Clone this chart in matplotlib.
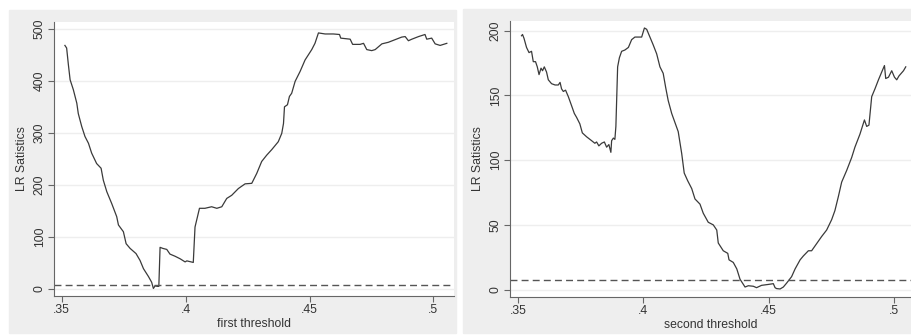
import numpy as np
import matplotlib
matplotlib.use("Agg")
import matplotlib.pyplot as plt
from matplotlib.patches import Rectangle

plt.rcParams['font.family'] = ['Liberation Sans', 'DejaVu Sans']

# first threshold LR statistics
x1 = [.3513, .3520, .3527, .3534, .3547, .3561, .3567, .3581, .3594, .3608,
      .3621, .3641, .3659, .3668, .3682, .3702, .3722, .3729, .3749, .3760,
      .3776, .3800, .3816, .3830, .3850, .3863, .3870, .3877, .3886, .3892,
      .3897, .3908, .3924, .3937, .3957, .3978, .3998, .4005, .4031, .4038,
      .4048, .4056, .4078, .4105, .4126, .4146, .4166, .4186, .4213, .4240,
      .4267, .4287, .4307, .4327, .4348, .4374, .4388, .4395, .4399, .4411,
      .4419, .4428, .4442, .4462, .4482, .4509, .4522, .4536, .4563, .4596,
      .4621, .4626, .4664, .4674, .4704, .4718, .4731, .4751, .4765, .4792,
      .4818, .4845, .4872, .4886, .4899, .4913, .4940, .4966, .4973, .4993,
      .5007, .5027, .5054]
lr1 = [468, 463, 431, 402, 383, 357, 337, 312, 293, 280,
       261, 241, 232, 209, 187, 164, 139, 123, 110, 87,
       78, 68, 55, 39, 24, 13, 1, 6, 5, 5,
       80, 78, 76, 67, 63, 58, 52, 54, 51, 119,
       139, 155, 155, 158, 155, 158, 174, 180, 193, 202,
       203, 222, 245, 257, 268, 283, 299, 318, 350, 354,
       370, 376, 399, 418, 440, 460, 472, 492, 490, 490,
       489, 482, 480, 470, 470, 472, 460, 458, 460, 471,
       474, 479, 484, 485, 477, 480, 485, 489, 480, 482,
       471, 468, 472]

# second threshold LR statistics
x2 = [.3513, .3517, .3523, .3533, .3543, .3553, .3560, .3569, .3576, .3583,
      .3591, .3597, .3604, .3613, .3620, .3633, .3647, .3660, .3667, .3673,
      .3680, .3689, .3700, .3713, .3724, .3733, .3746, .3756, .3773, .3793,
      .3806, .3813, .3822, .3833, .3844, .3853, .3862, .3870, .3873, .3880,
      .3886, .3890, .3897, .3904, .3913, .3926, .3940, .3953, .3966, .3980,
      .3993, .4004, .4013, .4026, .4039, .4053, .4066, .4079, .4089, .4099,
      .4113, .4126, .4139, .4153, .4163, .4177, .4193, .4206, .4226, .4239,
      .4259, .4279, .4293, .4299, .4319, .4337, .4342, .4359, .4373, .4386,
      .4406, .4419, .4439, .4452, .4472, .4499, .4519, .4526, .4532, .4546,
      .4559, .4572, .4592, .4606, .4626, .4639, .4659, .4672, .4692, .4712,
      .4732, .4752, .4765, .4779, .4792, .4812, .4832, .4845, .4865, .4883,
      .4892, .4901, .4912, .4925, .4939, .4952, .4963, .4968, .4979, .4992,
      .5003, .5012, .5021, .5039, .5048]
lr2 = [196, 197, 194, 187, 183, 184, 176, 176, 172, 166,
       171, 169, 172, 168, 162, 159, 158, 158, 160, 155,
       153, 154, 149, 142, 136, 133, 128, 121, 118, 115,
       113, 114, 111, 113, 114, 110, 112, 106, 115, 117,
       116, 126, 172, 179, 184, 185, 187, 193, 195, 195,
       195, 202, 201, 195, 189, 182, 172, 167, 156, 146,
       136, 129, 122, 105, 90, 84, 78, 70, 66, 59,
       52, 50, 46, 36, 30, 28, 23, 21, 16, 8,
       2, 3, 2.6, 1.5, 3.3, 4, 4.6, 1.5, 0.8, 0.5,
       2, 5, 10, 16, 23, 26, 30, 30, 35.5, 41,
       46, 54, 61, 72, 83, 92, 102, 110, 120, 131,
       126, 127, 149, 155, 162, 168, 173, 163, 164, 169,
       164, 162, 165, 169, 172]

crit = 7.04  # critical value (dashed line)

xticks = [.35, .4, .45, .5]
xtick_labels = ['.35', '.4', '.45', '.5']

fig = plt.figure(figsize=(9.12, 3.35), dpi=100)
fig.patch.set_facecolor('white')

# grey panel backgrounds
W, H = 912.0, 335.0
fig.patches.append(Rectangle((9 / W, 1 - 333 / H), (456 - 9) / W, (333 - 10) / H,
                             transform=fig.transFigure, color='#eeeeee', zorder=-10))
fig.patches.append(Rectangle((463 / W, 1 - 333 / H), (912 - 463) / W, (333 - 9) / H,
                             transform=fig.transFigure, color='#eeeeee', zorder=-10))

ax1 = fig.add_axes([54 / W, 1 - 296 / H, 400 / W, 274 / H])
ax2 = fig.add_axes([510 / W, 1 - 297 / H, 402 / W, 276 / H])

panels = [(ax1, x1, lr1, 'first threshold', [0, 100, 200, 300, 400, 500], (-13.5, 513), (.3469, .5083)),
          (ax2, x2, lr2, 'second threshold', [0, 50, 100, 150, 200], (-5.7, 207.4), (.3467, .5073))]

for ax, x, y, xl, yt, ylim, xlim in panels:
    ax.set_facecolor('white')
    ax.plot(x, y, color='#3a3a3a', lw=0.9)
    ax.axhline(crit, color='#555555', lw=1.0, ls=(0, (5, 3)))
    ax.set_xlim(xlim)
    ax.set_ylim(ylim)
    ax.set_xticks(xticks)
    ax.set_xticklabels(xtick_labels)
    ax.set_yticks(yt)
    ax.set_yticklabels([str(v) for v in yt], rotation=90, va='center')
    ax.grid(axis='y', color='#eeeeee', lw=1.0)
    ax.set_axisbelow(True)
    for s in ['top', 'right']:
        ax.spines[s].set_visible(False)
    for s in ['left', 'bottom']:
        ax.spines[s].set_color('#666666')
        ax.spines[s].set_linewidth(0.8)
    ax.tick_params(colors='#666666', labelcolor='#333333', labelsize=8.8,
                   length=4, width=0.8, direction='out', pad=2)
    ax.set_xlabel(xl, fontsize=8.8, color='#333333', labelpad=1)
    ax.set_ylabel('LR Satistics', fontsize=8.8, color='#333333')
    ax.yaxis.set_label_coords(-0.065, 0.5)

fig.savefig('out.png', dpi=100, facecolor=fig.get_facecolor())
